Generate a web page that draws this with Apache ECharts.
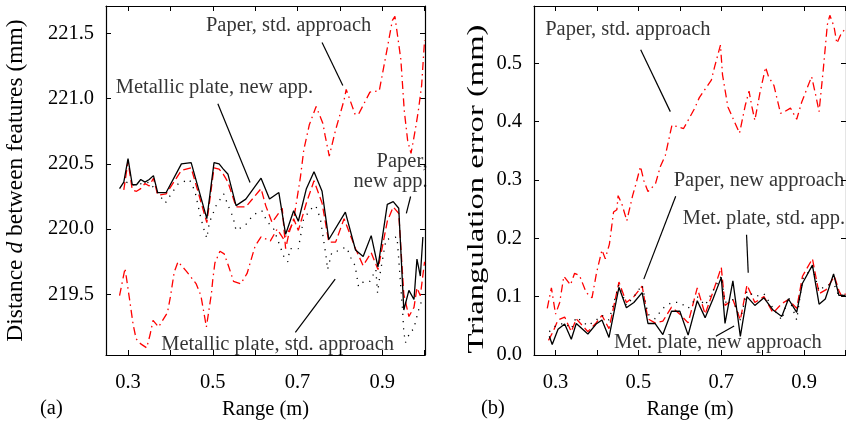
<!DOCTYPE html>
<html>
<head>
<meta charset="utf-8">
<script src="https://cdn.jsdelivr.net/npm/echarts@6/dist/echarts.min.js"></script>
<style>
html,body{margin:0;padding:0;background:#fff;}
#c{width:846px;height:426px;}
</style>
</head>
<body>
<div id="c"></div>
<script>
// ---------- Panel (a): distance d between features ----------
const aMetNewX = [0.28,0.29,0.30,0.31,0.32,0.33,0.34,0.35,0.36,0.37,0.39,0.426,0.449,0.486,0.503,0.515,0.525,0.536,0.555,0.578,0.614,0.634,0.656,0.672,0.691,0.702,0.721,0.739,0.758,0.774,0.813,0.837,0.855,0.874,0.890,0.912,0.926,0.939,0.951,0.963,0.975,0.982,0.990,0.996];
const aMetNewY = [220.31,220.36,220.54,220.34,220.34,220.38,220.36,220.38,220.41,220.28,220.28,220.50,220.51,220.08,220.51,220.50,220.46,220.42,220.18,220.23,220.39,220.23,220.28,219.96,220.14,220.06,220.31,220.44,220.29,219.92,220.13,219.84,219.79,219.95,219.71,220.19,220.21,220.16,219.38,219.53,219.46,219.77,219.64,219.94];

const aPapNewX = [0.29,0.30,0.31,0.32,0.33,0.34,0.35,0.36,0.37,0.39,0.426,0.449,0.486,0.503,0.515,0.525,0.536,0.555,0.578,0.614,0.625,0.64,0.664,0.672,0.68,0.691,0.702,0.721,0.739,0.758,0.774,0.79,0.81,0.837,0.855,0.874,0.89,0.912,0.926,0.939,0.951,0.963,0.975,0.982,0.990,1.0];
const aPapNewY = [220.30,220.52,220.30,220.29,220.31,220.35,220.33,220.39,220.26,220.27,220.45,220.47,220.05,220.47,220.46,220.42,220.36,220.17,220.17,220.31,220.18,220.05,220.16,219.85,219.97,220.08,219.99,220.20,220.37,220.20,219.90,219.90,220.08,219.85,219.72,219.82,219.69,220.06,220.17,220.12,219.50,219.33,219.40,219.55,219.49,219.75];

const aPapStdX = [0.28,0.293,0.305,0.312,0.319,0.33,0.344,0.352,0.359,0.372,0.393,0.40,0.409,0.418,0.437,0.461,0.472,0.485,0.497,0.50,0.505,0.517,0.527,0.538,0.549,0.566,0.581,0.60,0.614,0.636,0.652,0.668,0.69,0.707,0.715,0.728,0.744,0.76,0.765,0.775,0.79,0.81,0.815,0.836,0.844,0.871,0.893,0.911,0.924,0.93,0.944,0.952,0.96,0.968,0.978,0.985,0.993,1.0];
const aPapStdY = [219.49,219.70,219.43,219.27,219.16,219.12,219.09,219.19,219.30,219.25,219.36,219.48,219.67,219.75,219.68,219.58,219.49,219.25,219.51,219.61,219.74,219.83,219.81,219.71,219.60,219.58,219.66,219.87,219.94,219.91,220.00,219.92,220.05,220.40,220.61,220.80,220.94,220.81,220.72,220.56,220.76,220.99,221.07,220.88,220.88,221.05,221.06,221.37,221.60,221.63,221.30,220.91,220.68,220.58,220.76,220.90,221.10,221.45];

const aMetStdX = [0.296,0.313,0.335,0.35,0.372,0.388,0.402,0.419,0.445,0.458,0.47,0.478,0.486,0.492,0.508,0.526,0.534,0.548,0.555,0.577,0.596,0.616,0.628,0.644,0.670,0.677,0.682,0.692,0.702,0.714,0.730,0.743,0.754,0.768,0.771,0.781,0.793,0.804,0.816,0.826,0.836,0.844,0.857,0.871,0.885,0.889,0.895,0.909,0.922,0.935,0.948,0.951,0.955,0.967,0.974,0.985,0.995];
const aMetStdY = [220.36,220.34,220.35,220.36,220.27,220.20,220.27,220.35,220.38,220.29,220.11,220.01,219.93,220.05,220.18,220.27,220.20,220.09,219.99,220.03,220.11,220.14,220.06,220.00,219.77,219.75,219.85,219.85,219.85,220.07,220.15,220.18,220.08,219.78,219.69,219.82,219.83,219.85,219.86,219.78,219.72,219.56,219.60,219.60,219.69,219.51,219.66,219.92,219.93,219.94,219.38,219.21,219.13,219.22,219.23,219.37,219.47];

// ---------- Panel (b): triangulation error ----------
const bMetNewX = [0.285,0.292,0.306,0.322,0.338,0.350,0.378,0.398,0.412,0.429,0.453,0.471,0.489,0.509,0.523,0.540,0.559,0.580,0.600,0.620,0.642,0.661,0.680,0.700,0.709,0.728,0.746,0.762,0.781,0.803,0.825,0.846,0.862,0.882,0.896,0.920,0.936,0.951,0.971,0.984,0.991,1.0];
const bMetNewY = [0.032,0.018,0.044,0.053,0.027,0.054,0.036,0.053,0.060,0.030,0.116,0.081,0.090,0.107,0.054,0.054,0.035,0.075,0.075,0.034,0.093,0.064,0.096,0.133,0.054,0.127,0.032,0.100,0.085,0.098,0.077,0.066,0.096,0.073,0.123,0.154,0.087,0.096,0.139,0.102,0.102,0.102];

const bPapNewX = [0.283,0.294,0.306,0.322,0.338,0.350,0.378,0.398,0.412,0.429,0.453,0.471,0.489,0.509,0.523,0.540,0.559,0.580,0.600,0.620,0.642,0.661,0.680,0.700,0.709,0.728,0.746,0.762,0.781,0.803,0.825,0.846,0.862,0.882,0.896,0.920,0.936,0.953,0.973,0.984,0.991,1.0];
const bPapNewY = [0.025,0.040,0.060,0.065,0.040,0.062,0.040,0.055,0.068,0.045,0.125,0.090,0.100,0.118,0.062,0.055,0.058,0.082,0.070,0.055,0.115,0.070,0.108,0.150,0.085,0.095,0.060,0.120,0.090,0.100,0.072,0.088,0.095,0.080,0.135,0.165,0.105,0.112,0.135,0.110,0.100,0.105];

const bMetStdX = [0.285,0.300,0.322,0.338,0.350,0.378,0.398,0.412,0.429,0.453,0.471,0.489,0.509,0.523,0.540,0.559,0.580,0.600,0.620,0.642,0.661,0.680,0.700,0.709,0.728,0.746,0.762,0.781,0.803,0.825,0.846,0.862,0.882,0.896,0.920,0.936,0.953,0.973,0.984,1.0];
const bMetStdY = [0.040,0.050,0.055,0.045,0.065,0.050,0.060,0.068,0.060,0.120,0.085,0.100,0.120,0.070,0.062,0.080,0.090,0.090,0.080,0.100,0.085,0.110,0.135,0.090,0.095,0.060,0.110,0.100,0.105,0.080,0.060,0.100,0.060,0.130,0.150,0.110,0.120,0.120,0.100,0.105];

const bPapStdX = [0.280,0.290,0.300,0.310,0.320,0.336,0.346,0.358,0.374,0.388,0.399,0.412,0.420,0.430,0.440,0.448,0.451,0.460,0.472,0.486,0.494,0.505,0.513,0.523,0.541,0.553,0.565,0.581,0.609,0.636,0.647,0.676,0.684,0.698,0.703,0.716,0.744,0.758,0.767,0.774,0.781,0.794,0.807,0.814,0.827,0.843,0.853,0.867,0.882,0.894,0.918,0.928,0.936,0.946,0.956,0.962,0.972,0.979,0.989,1.0];
const bPapStdY = [0.080,0.115,0.070,0.090,0.135,0.120,0.140,0.136,0.107,0.098,0.141,0.180,0.165,0.190,0.245,0.249,0.273,0.259,0.230,0.273,0.293,0.323,0.299,0.280,0.293,0.323,0.342,0.394,0.388,0.423,0.441,0.471,0.494,0.531,0.480,0.425,0.380,0.428,0.452,0.425,0.402,0.452,0.493,0.477,0.462,0.414,0.417,0.423,0.404,0.433,0.477,0.445,0.417,0.488,0.566,0.582,0.563,0.534,0.550,0.560];

// ticks
const xTicks = [0.3,0.4,0.5,0.6,0.7,0.8,0.9,1.0];
const xTickLabels = [0.3,0.5,0.7,0.9];
const aYTicks = [219.5,220.0,220.5,221.0,221.5];
const bYTicks = [0.0,0.1,0.2,0.3,0.4,0.5];

// annotations: [text, x, y, align]
const aNotes = [
  ['Paper, std. approach', 0.679, 221.558, 'center'],
  ['Metallic plate, new app.', 0.504, 221.088, 'center'],
  ['Paper,', 1.007, 220.518, 'right'],
  ['new app.', 1.007, 220.365, 'right'],
  ['Metallic plate, std. approach', 0.653, 219.113, 'center']
];
const aLeaders = [[0.758,221.43,0.807,221.10],[0.512,220.96,0.588,220.357],[0.967,220.25,0.957,220.12],[0.695,219.208,0.789,219.617]];
const bNotes = [
  ['Paper, std. approach', 0.4745, 0.557, 'center'],
  ['Paper, new approach', 0.585, 0.299, 'left'],
  ['Met. plate, std. app.', 0.607, 0.233, 'left'],
  ['Met. plate, new approach', 0.441, 0.021, 'left']
];
const bLeaders = [[0.5055,0.523,0.577,0.417],[0.590,0.272,0.513,0.130],[0.761,0.206,0.765,0.141],[0.687,0.032,0.731,0.0496]];

const FONT = '"Liberation Serif","Times New Roman",serif';
const FS = 20.5;
const RED = '#ff0000';
const DASHDOT = [8,4,1.5,4];
const DASH = [8,4];
const DOT = [1.2,6];

function zip(xs, ys){ return xs.map((x,i)=>[x, ys[i]]); }

function xAxis(gi, pos){
  return {
    type:'value', gridIndex:gi, position:pos, min:0.248, max:1.001,
    axisLine:{show:true, onZero:false, lineStyle:{color:'#000', width:1.2}},
    axisTick:{show:true, inside:true, length:5, customValues:xTicks, lineStyle:{color:'#000', width:1}},
    axisLabel:{show:pos==='bottom', customValues:xTickLabels, margin:17, color:'#000', fontFamily:FONT, fontSize:FS, formatter:v=>v.toFixed(1)},
    splitLine:{show:false},
    name: pos==='bottom' ? 'Range (m)' : '', nameLocation:'middle', nameGap:44,
    nameTextStyle:{color:'#000', fontFamily:FONT, fontSize:FS}
  };
}
function yAxis(gi, pos, min, max, ticks, name, nameGap, nameSize){
  return {
    type:'value', gridIndex:gi, position:pos, min:min, max:max,
    axisLine:{show:true, onZero:false, lineStyle:{color:'#000', width:1.2}},
    axisTick:{show:true, inside:true, length:5, customValues:ticks, lineStyle:{color:'#000', width:1}},
    axisLabel:{show:pos==='left', customValues:ticks, margin:12, color:'#000', fontFamily:FONT, fontSize:FS, formatter:v=>v.toFixed(1)},
    splitLine:{show:false},
    name: name || '', nameLocation:'middle', nameGap:nameGap||0, nameRotate:90,
    nameTextStyle:{color:'#000', fontFamily:FONT, fontSize:nameSize||FS,
      rich:{n:{fontFamily:FONT, fontSize:nameSize||FS, color:'#000'}, i:{fontFamily:FONT, fontSize:nameSize||FS, fontStyle:'italic', color:'#000'}}}
  };
}
function lineSeries(xi, yi, xs, ys, color, type, width){
  return {type:'line', xAxisIndex:xi, yAxisIndex:yi, data:zip(xs,ys), showSymbol:false, symbol:'none',
    lineStyle:{color:color, type:type, width:width}, itemStyle:{color:color}, silent:true, clip:true, z:3};
}
function noteSeries(xi, yi, notes, leaders){
  return {
    type:'scatter', xAxisIndex:xi, yAxisIndex:yi, symbolSize:0, clip:false, silent:true, z:10,
    data: notes.map(n=>({value:[n[1], n[2]], label:{show:true, position:'inside', formatter:n[0], align:n[3], verticalAlign:'middle',
      color:'#000', fontFamily:FONT, fontSize:FS}})),
    markLine:{silent:true, symbol:['none','none'], label:{show:false}, animation:false,
      lineStyle:{color:'#000', type:'solid', width:1.2},
      data: leaders.map(l=>[{coord:[l[0], l[1]]},{coord:[l[2], l[3]]}])}
  };
}

const chart = echarts.init(document.getElementById('c'), null, {renderer:'canvas'});
chart.setOption({
  animation:false,
  backgroundColor:'#fff',
  grid:[
    {left:106, right:421, top:6, bottom:71},
    {left:534, right:-4, top:6, bottom:71}
  ],
  xAxis:[xAxis(0,'bottom'), xAxis(0,'top'), xAxis(1,'bottom'), xAxis(1,'top')],
  yAxis:[
    yAxis(0,'left',219.035,221.71,aYTicks,'{n|Distance }{i|d}{n| between features (mm)}',78,23.5),
    yAxis(0,'right',219.035,221.71,aYTicks),
    yAxis(1,'left',0,0.598,bYTicks),
    yAxis(1,'right',0,0.598,bYTicks)
  ],
  series:[
    lineSeries(0,0,aPapStdX,aPapStdY,RED,DASHDOT,1.3),
    lineSeries(0,0,aPapNewX,aPapNewY,RED,DASH,1.3),
    lineSeries(0,0,aMetStdX,aMetStdY,'#000',DOT,1.3),
    lineSeries(0,0,aMetNewX,aMetNewY,'#000','solid',1.3),
    noteSeries(0,0,aNotes,aLeaders),
    lineSeries(2,2,bPapStdX,bPapStdY,RED,DASHDOT,1.3),
    lineSeries(2,2,bPapNewX,bPapNewY,RED,DASH,1.3),
    lineSeries(2,2,bMetStdX,bMetStdY,'#000',DOT,1.3),
    lineSeries(2,2,bMetNewX,bMetNewY,'#000','solid',1.3),
    noteSeries(2,2,bNotes,bLeaders)
  ],
  graphic:[
    {type:'text', x:477, y:189, rotation:Math.PI/2, scaleX:1.42,
      style:{text:'Triangulation error (mm)', fontFamily:FONT, fontSize:23, fill:'#000', align:'center', verticalAlign:'middle'}},
    {type:'text', left:40, top:398, style:{text:'(a)', fontFamily:FONT, fontSize:FS, fill:'#000'}},
    {type:'text', left:481, top:398, style:{text:'(b)', fontFamily:FONT, fontSize:FS, fill:'#000'}}
  ]
});
</script>
</body>
</html>
